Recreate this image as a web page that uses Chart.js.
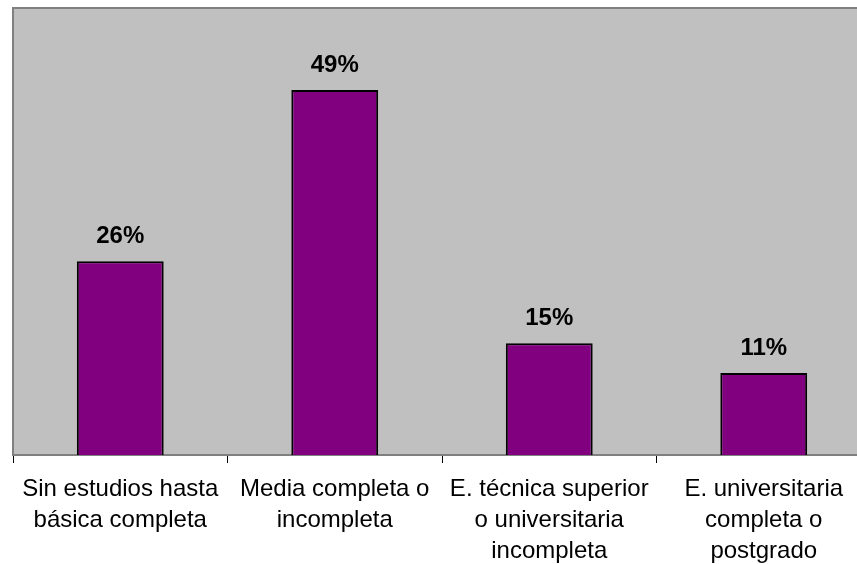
<!DOCTYPE html>
<html>
<head>
<meta charset="utf-8">
<script src="https://cdn.jsdelivr.net/npm/chart.js@4/dist/chart.umd.min.js"></script>
<style>
html,body{margin:0;padding:0;overflow:hidden;background:#fff;}
#wrap{width:871px;height:564px;}
</style>
</head>
<body>
<div id="wrap"><canvas id="c" width="871" height="564"></canvas></div>
<script>
const categories = [
  ["Sin estudios hasta", "básica completa"],
  ["Media completa o", "incompleta"],
  ["E. técnica superior", "o universitaria", "incompleta"],
  ["E. universitaria", "completa o", "postgrado"]
];
const values = [26, 49, 15, 11];
const valueLabels = ["26%", "49%", "15%", "11%"];
const yMax = 60;

const FONT = "'Liberation Sans', Arial, sans-serif";

const plotBg = {
  id: 'plotBg',
  beforeDraw(chart) {
    const {ctx, chartArea: a} = chart;
    ctx.save();
    ctx.fillStyle = '#C0C0C0';
    ctx.fillRect(a.left, a.top, a.right - a.left, a.bottom - a.top);
    ctx.strokeStyle = '#808080';
    ctx.lineWidth = 2;
    ctx.beginPath();
    ctx.moveTo(a.left, a.bottom);
    ctx.lineTo(a.left, a.top);
    ctx.lineTo(a.right + 5, a.top);
    ctx.stroke();
    ctx.restore();
  }
};

const valueLabelPlugin = {
  id: 'valueLabels',
  afterDatasetsDraw(chart) {
    const {ctx} = chart;
    const meta = chart.getDatasetMeta(0);
    ctx.save();
    ctx.font = "bold 24px " + FONT;
    ctx.fillStyle = '#000';
    ctx.textAlign = 'center';
    ctx.textBaseline = 'alphabetic';
    meta.data.forEach((bar, i) => {
      ctx.fillText(valueLabels[i], bar.x, bar.y - 18);
    });
    ctx.restore();
  }
};

new Chart(document.getElementById('c'), {
  type: 'bar',
  data: {
    labels: categories,
    datasets: [{
      data: values,
      backgroundColor: '#800080',
      borderColor: '#000000',
      borderWidth: 2,
      barPercentage: 0.405,
      categoryPercentage: 1.0
    }]
  },
  options: {
    responsive: false,
    animation: false,
    layout: {padding: {left: 13, top: 8, right: 0, bottom: 0}},
    plugins: {legend: {display: false}, tooltip: {enabled: false}},
    scales: {
      y: {display: false, min: 0, max: yMax},
      x: {
        offset: true,
        afterFit(scale) { scale.height = 109; },
        border: {display: true, color: '#808080', width: 2},
        grid: {
          display: true,
          offset: true,
          drawOnChartArea: false,
          drawTicks: true,
          tickLength: 8,
          color: '#000000',
          lineWidth: 1
        },
        ticks: {
          autoSkip: false,
          maxRotation: 0,
          minRotation: 0,
          color: '#000000',
          padding: 11,
          font: {family: FONT, size: 24, lineHeight: 1.29}
        }
      }
    }
  },
  plugins: [plotBg, valueLabelPlugin]
});
</script>
</body>
</html>
